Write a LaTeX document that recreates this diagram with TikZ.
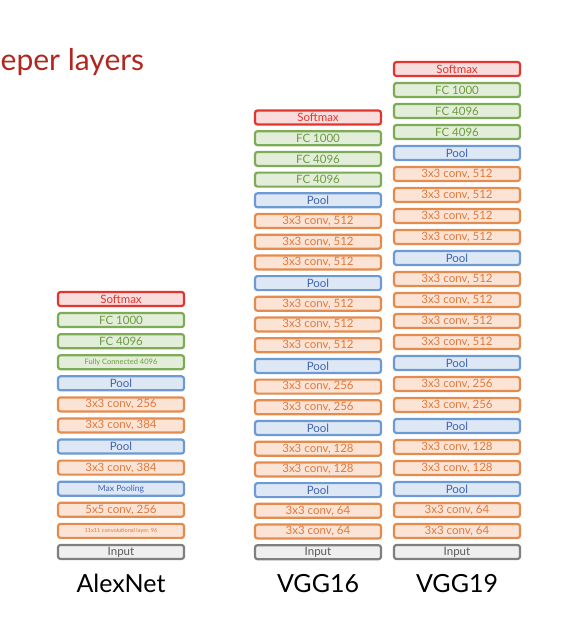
\documentclass[tikz,border=0pt]{standalone}
\usepackage{fontspec}
\setmainfont{Lato}
\usetikzlibrary{positioning}
\definecolor{softline}{HTML}{E3352F}
\definecolor{softfill}{HTML}{F9DCDC}
\definecolor{fcline}{HTML}{7EAB55}
\definecolor{fcfill}{HTML}{E3EEDA}
\definecolor{fctext}{HTML}{6C9B3E}
\definecolor{poolline}{HTML}{6D9AD3}
\definecolor{poolfill}{HTML}{DEE8F5}
\definecolor{pooltext}{HTML}{3E63B3}
\definecolor{convline}{HTML}{E48B4E}
\definecolor{convfill}{HTML}{FBE4D6}
\definecolor{convtext}{HTML}{E2783A}
\definecolor{inpline}{HTML}{7F7F7F}
\definecolor{inpfill}{HTML}{EFEFEF}
\definecolor{inptext}{HTML}{595959}
\definecolor{titlered}{HTML}{B2261F}
\begin{document}
\begin{tikzpicture}[
			x=1pt, y=-1pt,
			layer/.style={draw, rounded corners=2.5pt, line width=2.2pt,
					minimum width=126pt, minimum height=14pt, inner sep=0pt,
					font=\fontsize{11.5}{12}\selectfont},
			soft/.style={layer, draw=softline, fill=softfill, text=softline},
			fc/.style={layer, draw=fcline, fill=fcfill, text=fctext},
			fcsmall/.style={fc, font=\fontsize{7.5}{8}\selectfont},
			pool/.style={layer, draw=poolline, fill=poolfill, text=pooltext},
			poolsmall/.style={pool, font=\fontsize{8.5}{9}\selectfont},
			conv/.style={layer, draw=convline, fill=convfill, text=convtext},
			convtiny/.style={conv, font=\fontsize{5.6}{6}\selectfont},
			inp/.style={layer, draw=inpline, fill=inpfill, text=inptext},
			netname/.style={font=\fontsize{25}{28}\selectfont, inner sep=0pt}
		]
		\useasboundingbox (0,0) rectangle (572,630);
		\node[anchor=west, text=titlered, inner sep=0pt,
			font=\fontsize{30}{33}\selectfont] (title) at (0.5,62) {eper layers};

		% AlexNet
		\foreach \txt/\kind [count=\i] in {Softmax/soft, FC 1000/fc, FC 4096/fc,
				Fully Connected 4096/fcsmall, Pool/pool, {3x3 conv, 256}/conv,
				{3x3 conv, 384}/conv, Pool/pool, {3x3 conv, 384}/conv,
				Max Pooling/poolsmall, {5x5 conv, 256}/conv,
				{11x11 convolutional layer, 96}/convtiny, Input/inp}
			\node[\kind] (alex\i) at (121,{299+(\i-1)*21.08}) {\txt};

		% VGG16
		\foreach \txt/\kind [count=\i] in {Softmax/soft, FC 1000/fc, FC 4096/fc,
				FC 4096/fc, Pool/pool, {3x3 conv, 512}/conv, {3x3 conv, 512}/conv,
				{3x3 conv, 512}/conv, Pool/pool, {3x3 conv, 512}/conv,
				{3x3 conv, 512}/conv, {3x3 conv, 512}/conv, Pool/pool,
				{3x3 conv, 256}/conv, {3x3 conv, 256}/conv, Pool/pool,
				{3x3 conv, 128}/conv, {3x3 conv, 128}/conv, Pool/pool,
				{3x3 conv, 64}/conv, {3x3 conv, 64}/conv, Input/inp}
			\node[\kind] (vggsix\i) at (318,{117.5+(\i-1)*20.7}) {\txt};

		% VGG19
		\foreach \txt/\kind [count=\i] in {Softmax/soft, FC 1000/fc, FC 4096/fc,
				FC 4096/fc, Pool/pool, {3x3 conv, 512}/conv, {3x3 conv, 512}/conv,
				{3x3 conv, 512}/conv, {3x3 conv, 512}/conv, Pool/pool,
				{3x3 conv, 512}/conv, {3x3 conv, 512}/conv, {3x3 conv, 512}/conv,
				{3x3 conv, 512}/conv, Pool/pool, {3x3 conv, 256}/conv,
				{3x3 conv, 256}/conv, Pool/pool, {3x3 conv, 128}/conv,
				{3x3 conv, 128}/conv, Pool/pool, {3x3 conv, 64}/conv,
				{3x3 conv, 64}/conv, Input/inp}
			\node[\kind] (vggnine\i) at (457,{69+(\i-1)*21}) {\txt};

		\node[netname, below=14pt of alex13] (alexname) {AlexNet};
		\node[netname, below=14pt of vggsix22] (vggsixname) {VGG16};
		\node[netname, below=14pt of vggnine24] (vggninename) {VGG19};
	\end{tikzpicture}
\end{document}
